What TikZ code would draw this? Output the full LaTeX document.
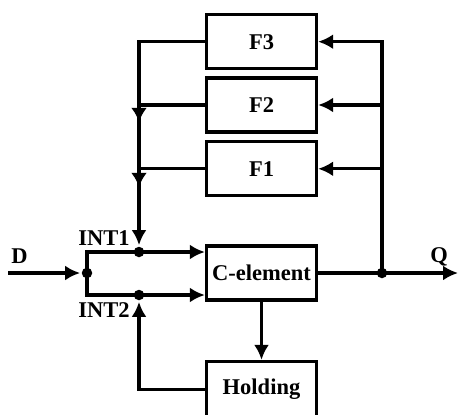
\documentclass[tikz,border=0pt]{standalone}
\usepackage{fontspec}
\setmainfont{Liberation Serif}
\usetikzlibrary{arrows.meta,decorations.markings}
\begin{document}
\begin{tikzpicture}[x=1pt,y=-1pt,line width=3.3pt,
  blk/.style={draw,line width=3.3pt,minimum width=110pt,minimum height=54pt,inner sep=0pt,font=\fontsize{22.5}{27}\selectfont\bfseries},
  lbl/.style={font=\fontsize{22.5}{27}\selectfont\bfseries,inner sep=0pt,anchor=base},
  tip/.style={-{Latex[length=15pt,width=15pt]}},
  dot/.style={circle,fill,inner sep=0pt,minimum size=10.5pt},
  midarrows/.style={postaction={decorate},decoration={markings,
     mark=at position 146pt with {\arrow{Latex[length=14pt,width=16pt]}},
     mark=at position 211pt with {\arrow{Latex[length=14pt,width=16pt]}}}}
  ]
\useasboundingbox (0,0) rectangle (458,415);
% blocks
\node[blk] (F3) at (261.5,41.7) {F3};
\node[blk] (F2) at (261.5,105) {F2};
\node[blk] (F1) at (261.5,168.8) {F1};
\node[blk] (C) at (261.5,273) {C-element};
\node[blk,minimum height=56pt] (H) at (261.5,389.5) {Holding};
% junction dots
\node[dot] (dsplit) at (87,273) {};
\node[dot] (int1) at (139,252) {};
\node[dot] (int2) at (139,295) {};
\node[dot] (qsplit) at (382,273) {};
\coordinate (din) at (8,273);
\coordinate (qout) at (458,273);
% labels
\node[lbl] (lD) at (19.5,263) {D};
\node[lbl] (lI1) at (104,245) {INT1};
\node[lbl] (lI2) at (104,317) {INT2};
\node[lbl] (lQ) at (439,262) {Q};
% connectors
\draw[tip] (din) -- (dsplit);
\draw (dsplit.center) |- (int1.center);
\draw (dsplit.center) |- (int2.center);
\draw[tip] (int1.center) -- (C.west |- int1.center);
\draw[tip] (int2.center) -- (C.west |- int2.center);
\draw (C.east) -- (qsplit.center);
\draw[tip] (qsplit.center) -- (qout);
\draw[tip] (qsplit.center) |- (F3.east);
\draw[tip] (qsplit.center |- F2.east) -- (F2.east);
\draw[tip] (qsplit.center |- F1.east) -- (F1.east);
\draw (F2.west) -- (int1.center |- F2.west);
\draw (F1.west) -- (int1.center |- F1.west);
\draw[tip,midarrows] (F3.west) -| (int1);
\draw[tip] (C) -- (H);
\draw[tip] (H.west) -| (int2);
\end{tikzpicture}
\end{document}
